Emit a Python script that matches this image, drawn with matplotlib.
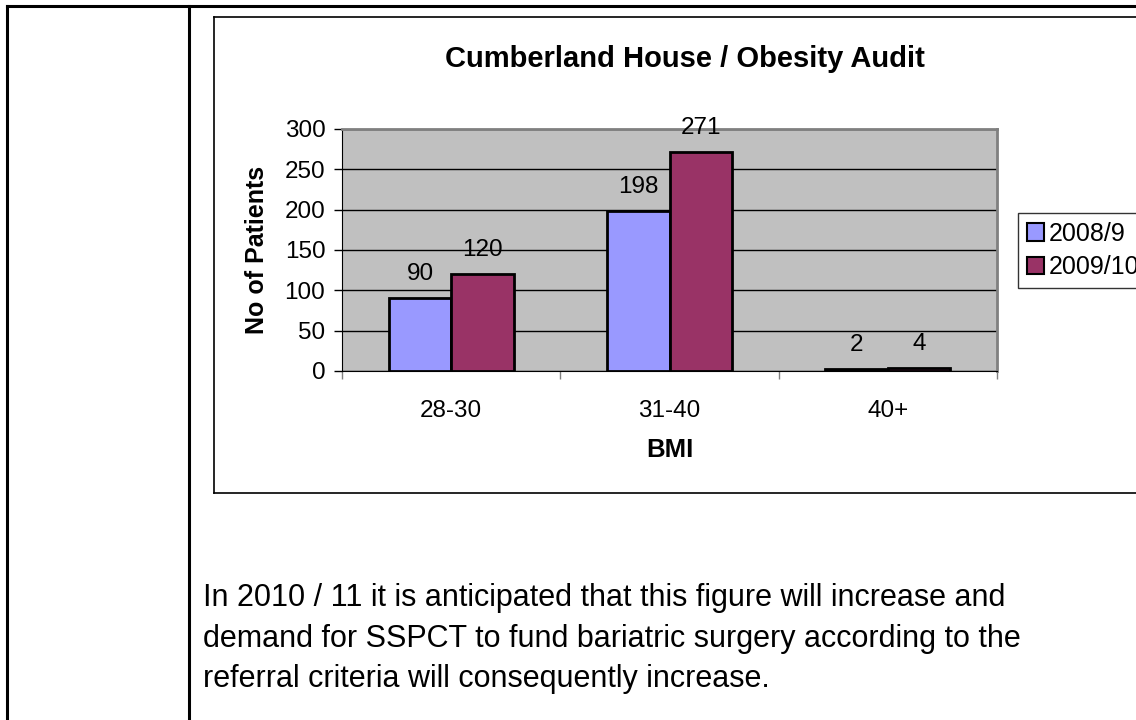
import numpy as np
import matplotlib.pyplot as plt
from matplotlib.lines import Line2D

plt.rcParams['font.family'] = ['Liberation Sans', 'DejaVu Sans']

categories = ['28-30', '31-40', '40+']
series_names = ['2008/9', '2009/10']
values_2008 = [90, 198, 2]
values_2009 = [120, 271, 4]
yticks = [0, 50, 100, 150, 200, 250, 300]
body_text = ('In 2010 / 11 it is anticipated that this figure will increase and\n'
             'demand for SSPCT to fund bariatric surgery according to the\n'
             'referral criteria will consequently increase.')

W, H = 1136, 720
fig = plt.figure(figsize=(W / 100, H / 100), dpi=100)


def fx(x):
    return x / W


def fy(y):
    return 1 - y / H


# document table lines
for (x0, y0, x1, y1, lw) in [(7, 6, 1136, 6, 2.2), (7, 6, 7, 720, 2.2), (189, 6, 189, 720, 2.2)]:
    fig.add_artist(Line2D([fx(x0), fx(x1)], [fy(y0), fy(y1)], color='black', lw=lw))

# chart frame
fig.add_artist(Line2D([fx(214), fx(1136)], [fy(17), fy(17)], color='black', lw=1.2))
fig.add_artist(Line2D([fx(214), fx(214)], [fy(17), fy(493)], color='black', lw=1.2))
fig.add_artist(Line2D([fx(214), fx(1136)], [fy(493), fy(493)], color='black', lw=1.2))

ax = fig.add_axes([fx(342), fy(371), (997 - 342) / W, (371 - 129) / H])
ax.set_facecolor('#C0C0C0')
x = np.arange(len(categories))
w = 1 / 3.5
b1 = ax.bar(x - w / 2, values_2008, w, color='#9999FF', edgecolor='black', lw=2, label=series_names[0], zorder=3)
b2 = ax.bar(x + w / 2, values_2009, w, color='#993366', edgecolor='black', lw=2, label=series_names[1], zorder=3)
for bars in (b1, b2):
    for r in bars:
        ax.annotate(str(int(r.get_height())), (r.get_x() + r.get_width() / 2, r.get_height()),
                    xytext=(0, 9.5), textcoords='offset points', ha='center', va='bottom',
                    fontsize=17.5, zorder=4, annotation_clip=False)

ax.set_xlim(-0.5, len(categories) - 0.5)
ax.set_ylim(0, 300)
ax.set_yticks(yticks)
ax.tick_params(axis='y', labelsize=17.5, length=6, width=1, direction='out', pad=6)
ax.set_xticks(x)
ax.set_xticklabels(categories)
ax.tick_params(axis='x', which='major', labelsize=17.5, length=0, pad=21)
ax.set_xticks(np.arange(-0.5, len(categories)), minor=True)
ax.tick_params(axis='x', which='minor', length=6, width=1, direction='out', color='#808080')
ax.grid(axis='y', color='black', lw=1, zorder=1)
for s in ['top', 'right']:
    ax.spines[s].set_color('#808080')
    ax.spines[s].set_linewidth(2)
ax.spines['left'].set_color('black')
ax.spines['bottom'].set_color('black')

fig.text(fx(685), fy(67), 'Cumberland House / Obesity Audit', ha='center', va='baseline',
         fontsize=21, fontweight='bold')
fig.text(fx(257), fy(250), 'No of Patients', ha='center', va='center', rotation=90,
         fontsize=18, fontweight='bold')
fig.text(fx(670), fy(450), 'BMI', ha='center', va='center', fontsize=18.5, fontweight='bold')

leg = fig.legend(handles=[b1, b2], loc='upper left', bbox_to_anchor=(fx(1018), fy(213)),
                 fontsize=18, frameon=True, fancybox=False, edgecolor='black',
                 handlelength=0.68, handleheight=0.68, handletextpad=0.2,
                 borderpad=0.35, labelspacing=0.38, borderaxespad=0)
leg.get_frame().set_linewidth(1)
for h in leg.legend_handles:
    h.set_linewidth(1.5)

fig.text(fx(203), fy(583), body_text, ha='left', va='top', fontsize=22, linespacing=1.46)

fig.savefig('out.png', dpi=100)
